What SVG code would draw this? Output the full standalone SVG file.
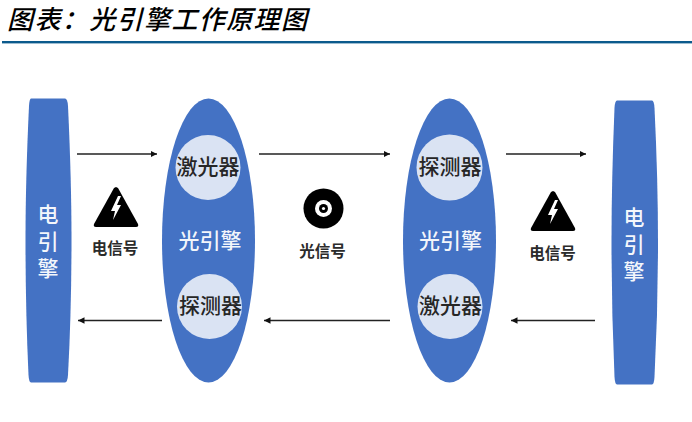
<svg xmlns="http://www.w3.org/2000/svg" width="692" height="422" viewBox="0 0 692 422">
<style>
text{font-family:"Noto Sans CJK SC","Noto Sans",sans-serif;text-anchor:middle;dominant-baseline:central}
.title{font-size:26px;font-style:italic;font-weight:500;fill:#000;text-anchor:start;letter-spacing:1.4px}
.body{fill:#4472c4}
.disc{fill:#dae3f3}
.w{fill:#fff;font-size:21px;font-weight:500;fill-opacity:.95}
.v{writing-mode:vertical-rl;letter-spacing:6px}
.d{fill:#262626;font-size:21px;font-weight:500}
.s{fill:#2b2b2b;font-size:15.5px;font-weight:700}
.c{stroke:#222;stroke-width:1.3;fill:none;marker-end:url(#a)}
</style>
<defs>
<marker id="a" viewBox="0 0 8 8" refX="8" refY="4" markerWidth="6.5" markerHeight="6.5" markerUnits="userSpaceOnUse" orient="auto"><path d="M0 0L8 4L0 8Z" fill="#111"/></marker>
<path id="warn" d="M0 -21L-2 -20L-22 16Q-23 19 -20 19H20Q23 19 22 16L2 -20Z"/>
<path id="bolt" d="M2 -12L-5 3H-1L-3 12L5 -3H1L5 -12Z" fill="#fff"/>
</defs>
<rect width="692" height="422" fill="#fff"/>
<g id="title">
<text class="title" x="7" y="17">图表：光引擎工作原理图</text>
<rect x="2" y="41" width="690" height="2.4" fill="#0b5a8c"/>
</g>
<g id="connectors">
<path class="c" d="M77 154H157"/>
<path class="c" d="M259 154H390"/>
<path class="c" d="M506 154H586"/>
<path class="c" d="M162 320.5H78"/>
<path class="c" d="M390 320.5H264"/>
<path class="c" d="M595 320.5H511"/>
</g>
<g id="electric-engine-left">
<path class="body" d="M31 98.5H65Q67.500 98.500 68 106Q71.500 180 71.500 240Q71.500 310 68 375Q67.500 382.500 65 382.500H31Q29 382.500 28.500 375Q25.500 310 25.500 240Q25.500 180 29 106Q29.500 98.500 31 98.500Z"/>
<text class="w v" x="48" y="244">电引擎</text>
</g>
<g id="signal-electric-left">
<use href="#warn" x="116" y="208"/><use href="#bolt" x="116" y="208"/>
<text class="s" x="115" y="247">电信号</text>
</g>
<g id="optical-engine-left">
<ellipse class="body" cx="208.500" cy="240.500" rx="46.500" ry="142"/>
<circle class="disc" cx="208" cy="167.500" r="32.500"/>
<circle class="disc" cx="209.500" cy="306.500" r="32.500"/>
<text class="d" x="208" y="165">激光器</text>
<text class="w" x="210" y="239">光引擎</text>
<text class="d" x="210.500" y="304">探测器</text>
</g>
<g id="signal-optical">
<circle cx="323.500" cy="208.500" r="20"/>
<circle cx="323.500" cy="208.500" r="8.500" fill="#fff"/>
<circle cx="323.500" cy="208.500" r="4.500"/>
<circle cx="323.500" cy="208.500" r="1.600" fill="#fff"/>
<text class="s" x="322.500" y="250">光信号</text>
</g>
<g id="optical-engine-right">
<ellipse class="body" cx="449.500" cy="240.500" rx="46.500" ry="142"/>
<circle class="disc" cx="449.500" cy="167.500" r="33"/>
<circle class="disc" cx="450" cy="306.500" r="32.500"/>
<text class="d" x="450" y="165">探测器</text>
<text class="w" x="450.500" y="239">光引擎</text>
<text class="d" x="450.500" y="304">激光器</text>
</g>
<g id="signal-electric-right">
<use href="#warn" x="553" y="212"/><use href="#bolt" x="553" y="212"/>
<text class="s" x="552.500" y="252">电信号</text>
</g>
<g id="electric-engine-right">
<path class="body" d="M617 100.500H652Q654 100.500 654.500 108Q658 180 658 242Q658 310 654.500 377Q654 384.500 652 384.500H617Q615 384.500 614.500 377Q611.500 310 611.500 242Q611.500 180 614.500 108Q615 100.500 617 100.500Z"/>
<text class="w v" x="634" y="247">电引擎</text>
</g>
</svg>
